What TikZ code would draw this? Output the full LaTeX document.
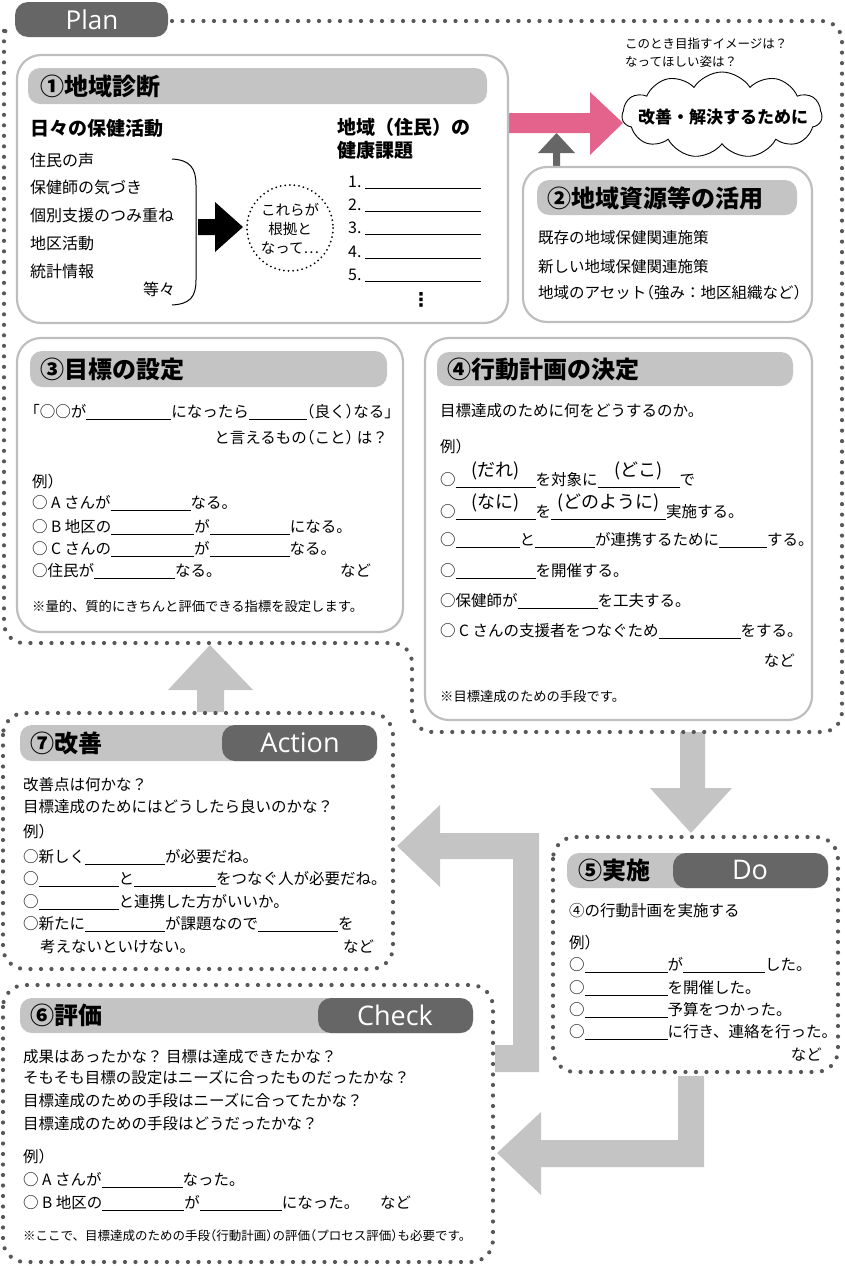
\documentclass[tikz,border=0pt]{standalone}
\usepackage{fontspec}
\setmainfont{Noto Sans CJK JP}
\newfontfamily\latf{Open Sans}
\newfontfamily\dvf{DejaVu Sans}
\usetikzlibrary{shapes.symbols}
\newcommand\fsz[1]{\fontsize{#1}{#1}\selectfont}
\newcommand\bl[1]{\rule[-1.5pt]{#1pt}{0.7pt}}
\newcommand\lpar{\makebox[0.5em][r]{（}}
\newcommand\rpar{\makebox[0.5em][l]{）}}
\newcommand\lkak{\makebox[0.5em][r]{「}}
\newcommand\rkak{\makebox[0.5em][l]{」}}
\definecolor{lg}{RGB}{196,196,196}
\definecolor{dg}{RGB}{102,102,102}
\definecolor{dt}{RGB}{88,88,88}
\definecolor{bd}{RGB}{190,190,190}
\definecolor{pk}{RGB}{228,99,140}
\begin{document}
\begin{tikzpicture}[x=1pt,y=-1pt,
 dotl/.style={draw=dt, line width=4.2pt, line cap=round, dash pattern=on 0pt off 10.5pt},
 boxl/.style={draw=bd, line width=2.2pt, rounded corners=24pt},
 hdr/.style={fill=lg, rounded corners=12pt},
 tabf/.style={fill=dg, rounded corners=13pt},
 ttl/.style={anchor=west, inner sep=0pt, font=\bfseries\fsz{24}, text height=21.1pt, text depth=2.9pt},
 tabt/.style={inner sep=0pt, text=white, font=\latf\fsz{27}},
 txt/.style={anchor=west, inner sep=0pt, font=\fsz{15.5}, text height=13.6pt, text depth=1.9pt},
 item/.style={anchor=west, inner sep=0pt, font=\fsz{16}, text height=14.1pt, text depth=1.9pt},
 sub/.style={anchor=west, inner sep=0pt, font=\bfseries\fsz{19}, text height=16.7pt, text depth=2.3pt},
 note/.style={anchor=west, inner sep=0pt, font=\fsz{13.3}, text height=11.7pt, text depth=1.6pt},
 ovl/.style={inner sep=0pt, font=\fsz{18}},
 garrow/.style={fill=lg}
]
\useasboundingbox (0,0) rectangle (844,1266);

% ---------- block arrows ----------
\fill[garrow] (680,732) -- (705,732) -- (705,788) -- (732,788) -- (691,833) -- (650,788) -- (680,788) -- cycle;
\fill[garrow] (397,846) -- (440,805) -- (440,833) -- (539,833) -- (539,1072) -- (495,1072) -- (495,1045) -- (513,1045) -- (513,859) -- (440,859) -- (440,887) -- cycle;
\fill[garrow] (497,1153) -- (541,1112) -- (541,1140) -- (678,1140) -- (678,1076) -- (704,1076) -- (704,1167) -- (541,1167) -- (541,1195) -- cycle;
\fill[garrow] (197,712) -- (197,690) -- (168,690) -- (210,645) -- (253,690) -- (224,690) -- (224,712) -- cycle;
\fill[pk] (508,113) -- (590,113) -- (590,92) -- (623,123) -- (590,155) -- (590,133) -- (508,133) -- cycle;
\fill[dg] (553,167) -- (553,153) -- (538,153) -- (556.5,133) -- (575,153) -- (560,153) -- (560,167) -- cycle;

% ---------- Plan frame ----------
\draw[dotl, rounded corners=20pt] (172,21) -- (842,21) -- (842,732) -- (412,732) -- (412,643) -- (4,643) -- (4,46) .. controls (4,36) and (7,30) .. (14,28);
\fill[tabf] (15,2) rectangle (168,37);
\node[tabt, font=\latf\fsz{26}] (plan) at (92,19.5) {Plan};

% ---------- box 1 ----------
\draw[boxl] (17,55) rectangle (508,323);
\fill[hdr] (28,68) rectangle (487,104);
\node[ttl] (t1) at (40,86) {①地域診断};
\node[sub] (s1) at (30,128) {日々の保健活動};
\node[item] (i1) at (30,160) {住民の声};
\node[item] (i2) at (30,187) {保健師の気づき};
\node[item] (i3) at (30,215) {個別支援のつみ重ね};
\node[item] (i4) at (30,243) {地区活動};
\node[item] (i5) at (30,271) {統計情報};
\node[item] (i6) at (143,289) {等々};
\draw[black, line width=1pt] (172,159) .. controls (190,160) and (196,168) .. (196,185) -- (196,280) .. controls (196,297) and (190,304) .. (172,305);
\fill[black] (198,219) -- (215,219) -- (215,202) -- (243,227) -- (215,252) -- (215,235) -- (198,235) -- cycle;
\draw[black, line width=2pt, line cap=round, dash pattern=on 0pt off 4.6pt] (290,228) circle (43);
\node[inner sep=0pt, align=center, font=\fontsize{14.5}{19}\selectfont] (c1) at (290,229) {これらが\\根拠と\\なって…};
\node[sub] (s2) at (337,127) {地域（住民）の};
\node[sub] (s3) at (337,150) {健康課題};
\node[item] (n1) at (348,181) {1.~\bl{116}};
\node[item] (n2) at (348,204) {2.~\bl{116}};
\node[item] (n3) at (348,227) {3.~\bl{116}};
\node[item] (n4) at (348,251) {4.~\bl{116}};
\node[item] (n5) at (348,274) {5.~\bl{116}};
\node[inner sep=0pt, font=\dvf\bfseries\fsz{19}] (vd) at (421,300) {⋮};

% ---------- cloud ----------
\node[note, font=\fsz{12.5}] (q1) at (625,43) {このとき目指すイメージは？};
\node[note, font=\fsz{12.5}] (q2) at (625,61) {なってほしい姿は？};
\node[cloud, draw=black, line width=0.9pt, cloud puffs=11, cloud puff arc=115, aspect=2.3, minimum width=200pt, minimum height=86pt, inner sep=0pt] (cl) at (722,115) {};
\node[inner sep=0pt, font=\bfseries\fsz{17}] (clt) at (723,117) {改善・解決するために};

% ---------- box 2 ----------
\draw[boxl] (523,167) rectangle (812,322);
\fill[hdr] (537,180) rectangle (797,215);
\node[ttl] (t2) at (547,198) {②地域資源等の活用};
\node[txt] (b21) at (538,238) {既存の地域保健関連施策};
\node[txt] (b22) at (538,267) {新しい地域保健関連施策};
\node[txt] (b23) at (538,293) {地域のアセット\lpar 強み：地区組織など\rpar};

% ---------- box 3 ----------
\draw[boxl] (17,338) rectangle (403,632);
\fill[hdr] (30,351) rectangle (387,387);
\node[ttl] (t3) at (40,369) {③目標の設定};
\node[txt] (b31) at (32,412) {\lkak ○○が\bl{85}になったら\bl{58}\lpar 良く\rpar なる\rkak};
\node[txt, anchor=east] (b32) at (388,438) {と言えるもの\lpar こと\rpar\ は？};
\node[txt] (b33) at (32,482) {例\rpar};
\node[txt] (b34) at (32,503) {○ A さんが\bl{80}なる。};
\node[txt] (b35) at (32,527) {○ B 地区の\bl{83}が\bl{80}になる。};
\node[txt] (b36) at (32,549) {○ C さんの\bl{83}が\bl{80}なる。};
\node[txt] (b37) at (32,571) {○住民が\bl{81}なる。};
\node[txt] (b38) at (340,571) {など};
\node[note] (b39) at (32,606) {※量的、質的にきちんと評価できる指標を設定します。};

% ---------- box 4 ----------
\draw[boxl] (425,338) rectangle (812,720);
\fill[hdr] (437,352) rectangle (793,386);
\node[ttl] (t4) at (447,369) {④行動計画の決定};
\node[txt] (b41) at (440,411) {目標達成のために何をどうするのか。};
\node[txt] (b42) at (440,447) {例\rpar};
\node[txt] (b43) at (440,480) {○\bl{80}を対象に\bl{82}で};
\node[ovl] (o1) at (495.5,471) {(だれ)};
\node[ovl] (o2) at (638.5,471) {(どこ)};
\node[txt] (b44) at (440,512) {○\bl{80}を\bl{115}実施する。};
\node[ovl] (o3) at (495.5,503) {(なに)};
\node[ovl] (o4) at (608.5,503) {(どのように)};
\node[txt] (b45) at (440,540) {○\bl{64}と\bl{60}が連携するために\bl{48}する。};
\node[txt] (b46) at (440,571) {○\bl{80}を開催する。};
\node[txt] (b47) at (440,601) {○保健師が\bl{80}を工夫する。};
\node[txt] (b48) at (440,631) {○ C さんの支援者をつなぐため\bl{82}をする。};
\node[txt, anchor=east] (b49) at (795,661) {など};
\node[note] (b410) at (440,696) {※目標達成のための手段です。};

% ---------- box 5 ----------
\draw[dotl, rounded corners=22pt] (553,837) rectangle (838,1072);
\fill[hdr] (567,853) rectangle (828,888);
\fill[tabf] (673,853) rectangle (828,888);
\node[ttl] (t5) at (578,870.5) {⑤実施};
\node[tabt] (do) at (750,870) {Do};
\node[txt] (b51) at (569,911) {④の行動計画を実施する};
\node[txt] (b52) at (569,943) {例\rpar};
\node[txt] (b53) at (569,965) {○\bl{83}が\bl{82}した。};
\node[txt] (b54) at (569,988) {○\bl{83}を開催した。};
\node[txt] (b55) at (569,1010) {○\bl{83}予算をつかった。};
\node[txt] (b56) at (569,1032) {○\bl{83}に行き、連絡を行った。};
\node[txt, anchor=east] (b57) at (822,1055) {など};

% ---------- box 7 ----------
\draw[dotl, rounded corners=22pt] (3,713) rectangle (393,969);
\fill[hdr] (20,725) rectangle (377,761);
\fill[tabf] (222,725) rectangle (377,761);
\node[ttl] (t7) at (30,743) {⑦改善};
\node[tabt] (act) at (300,743) {Action};
\node[txt] (b71) at (23,785) {改善点は何かな？};
\node[txt] (b72) at (23,807) {目標達成のためにはどうしたら良いのかな？};
\node[txt] (b73) at (23,832) {例\rpar};
\node[txt] (b74) at (23,857) {○新しく\bl{80}が必要だね。};
\node[txt] (b75) at (23,879) {○\bl{80}と\bl{82}をつなぐ人が必要だね。};
\node[txt] (b76) at (23,902) {○\bl{80}と連携した方がいいか。};
\node[txt] (b77) at (23,924) {○新たに\bl{80}が課題なので\bl{80}を};
\node[txt] (b78) at (40,947) {考えないといけない。};
\node[txt] (b79) at (343,947) {など};

% ---------- box 6 ----------
\draw[dotl, rounded corners=22pt] (3,985) rectangle (493,1262);
\fill[hdr] (20,998) rectangle (473,1033);
\fill[tabf] (318,998) rectangle (473,1033);
\node[ttl] (t6) at (30,1015.5) {⑥評価};
\node[tabt] (chk) at (395,1015) {Check};
\node[txt] (b61) at (23,1057) {成果はあったかな？ 目標は達成できたかな？};
\node[txt] (b62) at (23,1078) {そもそも目標の設定はニーズに合ったものだったかな？};
\node[txt] (b63) at (23,1101) {目標達成のための手段はニーズに合ってたかな？};
\node[txt] (b64) at (23,1124) {目標達成のための手段はどうだったかな？};
\node[txt] (b65) at (23,1157) {例\rpar};
\node[txt] (b66) at (23,1180) {○ A さんが\bl{81}なった。};
\node[txt] (b67) at (23,1203) {○ B 地区の\bl{82}が\bl{82}になった。};
\node[txt] (b68) at (380,1203) {など};
\node[note, font=\fsz{12.5}] (b69) at (23,1235) {※ここで、目標達成のための手段\lpar 行動計画\rpar の評価\lpar プロセス評価\rpar も必要です。};
\end{tikzpicture}
\end{document}
